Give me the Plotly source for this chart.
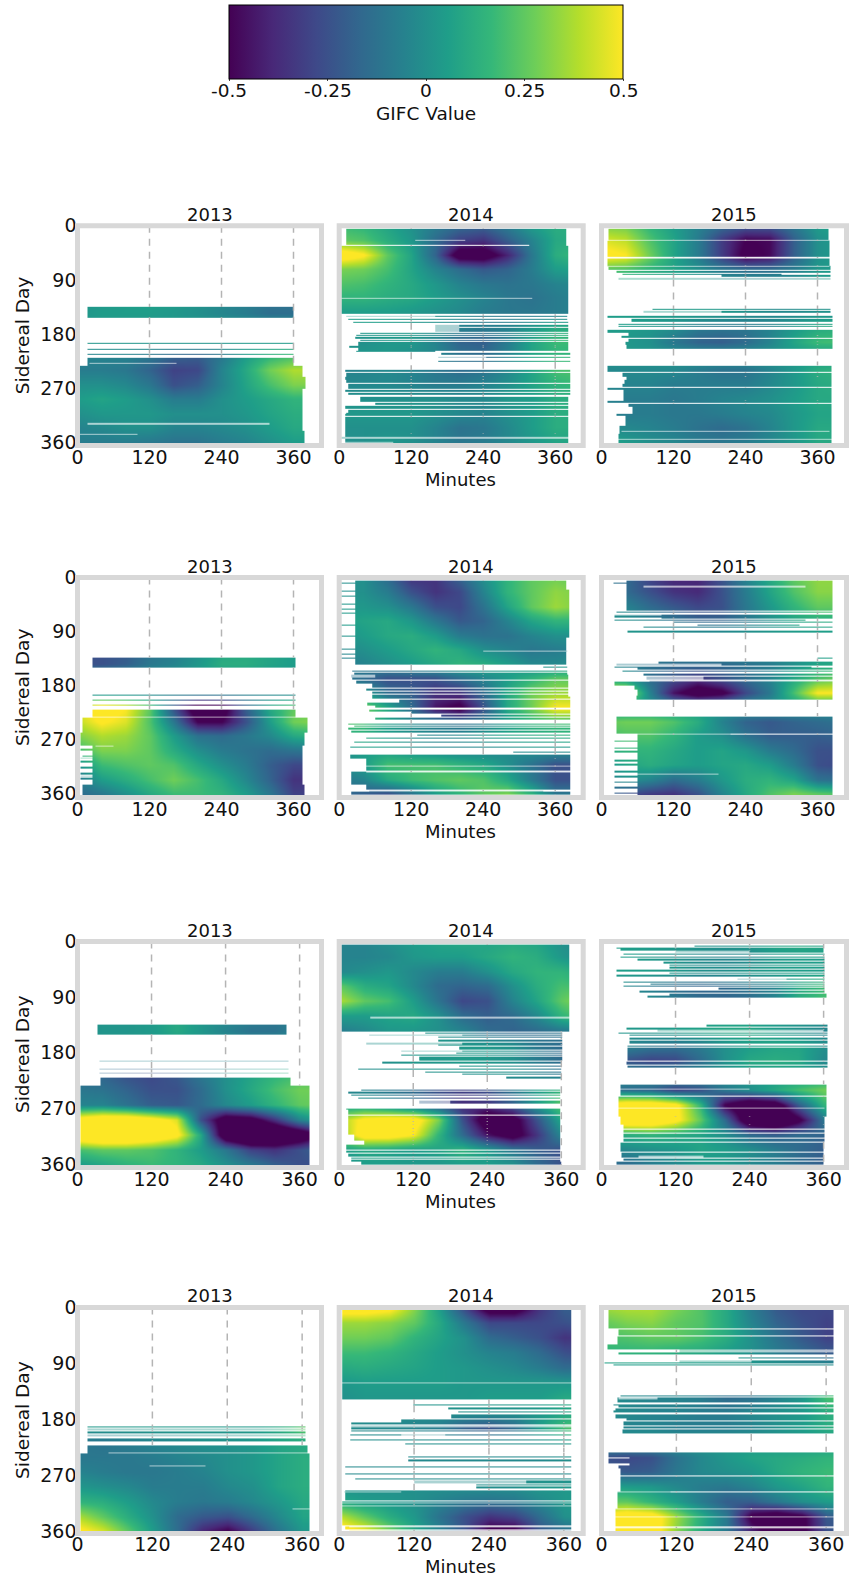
import plotly.graph_objects as go

YEARS = ["2013", "2014", "2015"]
DAYS = [0, 24, 48, 72, 96, 120, 144, 168, 192, 216, 240, 264, 288, 312, 336, 360]
MINS = [0, 40, 80, 120, 160, 200, 240, 280, 320, 360, 400]
X_TICKS = [0, 120, 240, 360]
Y_TICKS = [0, 90, 180, 270, 360]
GRID_TICKS = [120, 240, 360]
BAR_TICKS = [-0.5, -0.25, 0, 0.25, 0.5]
BAR_LABELS = ["-0.5", "-0.25", "0", "0.25", "0.5"]
H = [3] * 11  # days with no observations

# GIFC value x 100, one row per entry of DAYS, one column per entry of MINS
R1C1_Z = [H, H, H, H, H,
 [2,2,5,7,5,2,-2,-6,-10,-10,-10],
 [2,5,5,5,3,0,-4,-8,-14,-14,-14],
 [3,3,3,3,3,3,3,3,3,3,3],
 [3,3,3,3,3,3,3,3,3,3,3],
 [-5,-5,-5,-10,-18,-20,-10,5,15,20,20],
 [-8,-8,-10,-18,-30,-28,-5,10,28,38,38],
 [0,0,-3,-10,-25,-20,-5,8,20,30,30],
 [5,8,5,0,-8,-8,0,5,10,15,15],
 [0,3,3,3,0,0,0,3,8,12,12],
 [-5,-3,0,0,-5,-5,-3,0,5,10,10],
 [-8,-8,-8,-10,-12,-12,-8,-5,0,5,5]]
R1C2_Z = [
 [18,15,8,0,-8,-15,-18,-8,5,12,12],
 [25,22,12,3,-15,-30,-35,-20,-5,10,12],
 [62,52,25,8,-18,-62,-62,-40,-10,12,18],
 [30,28,20,8,-5,-15,-22,-18,-8,5,8],
 [22,20,15,10,3,-5,-10,-12,-10,-5,-3],
 [15,15,12,10,5,0,-5,-10,-12,-8,-5],
 [5,5,5,3,0,-3,-8,-10,-10,-8,-5],
 [5,5,5,3,0,-5,-8,-5,3,10,10],
 [0,0,3,3,-5,-18,-20,-8,8,18,18],
 [3,3,3,0,-3,-12,-15,-5,8,15,15],
 [-5,-5,-3,-5,-10,-15,-12,-3,8,20,22],
 [-3,-3,-3,-5,-8,-8,-5,0,8,15,18],
 [0,0,0,0,0,-3,-3,3,5,12,12],
 [3,3,3,3,0,-3,-5,0,5,12,12],
 [0,0,0,0,-5,-12,-10,-3,5,12,12],
 [0,0,3,0,-5,-10,-8,-3,3,8,8]]
R1C3_Z = [
 [30,28,15,5,-5,-15,-22,-22,-10,5,8],
 [45,40,22,8,-8,-32,-50,-48,-20,0,5],
 [55,50,28,8,-8,-32,-55,-48,-20,0,5],
 [25,22,15,8,0,-10,-15,-15,-8,3,5],
 H, H,
 [5,5,5,5,5,3,0,-3,-3,0,0],
 [5,5,3,0,-8,-10,-10,-5,3,10,12],
 [3,3,0,-10,-18,-20,-15,-5,8,18,20],
 H,
 [-3,-3,-3,-3,-8,-12,-12,-5,3,12,15],
 [-3,-5,-5,-8,-8,-8,-8,-3,3,10,12],
 [-5,-8,-8,-10,-8,-5,-3,0,5,10,10],
 [-5,-8,-8,-10,-10,-8,-5,-3,3,8,8],
 [0,-3,-5,-8,-12,-15,-12,-5,3,10,10],
 [10,5,0,-3,-8,-10,-8,-3,3,10,10]]
R2C1_Z = [H, H, H, H, H,
 [-25,-25,-22,-12,-8,0,8,10,8,5,5],
 [-25,-25,-20,-10,-5,3,12,12,8,5,5],
 H,
 [-5,-5,-5,-5,-5,-5,-5,-5,-5,-5,-5],
 [45,60,50,25,-25,-65,-60,-20,10,25,28],
 [40,52,45,22,-10,-50,-50,-25,5,28,32],
 [30,38,35,25,5,-12,-15,-10,-3,10,15],
 [18,30,30,25,12,0,-8,-12,-15,-12,-10],
 [0,18,22,25,22,10,0,-8,-20,-28,-28],
 [-10,5,12,20,28,20,10,-3,-18,-35,-35],
 [-15,-10,0,10,18,18,15,5,-10,-30,-30]]
R2C2_Z = [
 [0,0,-15,-35,-35,-18,0,15,25,28,25],
 [0,0,-8,-25,-35,-28,-5,15,25,33,30],
 [3,3,0,-10,-25,-28,-12,8,25,35,30],
 [5,8,10,3,-10,-22,-18,-5,8,15,15],
 [0,5,10,12,5,-8,-12,-12,-5,0,0],
 [-3,0,5,10,15,10,0,-5,-10,-8,-5],
 [-8,-5,0,5,10,15,12,5,-3,-3,0],
 [-10,-15,-25,-25,-25,-15,-5,5,15,25,25],
 [8,5,-15,-20,-35,-35,-15,10,28,35,35],
 [35,30,10,-15,-45,-55,-25,10,28,50,50],
 [25,20,5,-3,-8,-15,-8,5,15,20,20],
 [10,12,5,0,-5,-3,3,8,10,12,12],
 [0,5,5,0,-3,-5,-5,-3,0,0,0],
 [-3,5,20,20,20,15,10,0,-12,-25,-25],
 [-10,-5,10,18,22,25,22,10,-8,-25,-25],
 [-15,-20,-25,-12,5,15,25,30,15,-10,-10]]
R2C3_Z = [
 [-10,-15,-30,-40,-40,-25,-5,10,25,33,33],
 [-8,-15,-25,-35,-38,-25,-8,8,22,32,32],
 [-3,-5,-15,-22,-28,-25,-10,3,15,25,25],
 [0,0,-5,-12,-18,-18,-10,0,8,12,12],
 H, H,
 [-5,-8,-12,-15,-15,-15,-12,-8,0,8,10],
 [10,5,-15,-25,-35,-25,-15,-5,10,22,28],
 [50,45,-5,-45,-62,-55,-28,-10,20,50,50],
 H,
 [25,28,28,22,12,-5,-18,-22,-18,-15,-12],
 [18,22,22,15,5,0,-12,-20,-20,-20,-18],
 [10,15,15,10,5,8,3,-8,-15,-25,-25],
 [0,8,12,8,5,8,10,5,-8,-25,-28],
 [-8,0,-5,-15,-8,3,12,15,8,-12,-15],
 [-15,-25,-32,-35,-25,-5,10,22,30,25,22]]
R3C1_Z = [H, H, H, H, H,
 [-2,2,2,4,10,3,-2,-5,-10,-5,3],
 [-2,2,2,4,10,3,-5,-12,-12,-5,10],
 H,
 [-5,-5,-5,-5,-5,-5,-5,-5,-5,-5,-5],
 [-15,-18,-25,-28,-22,-10,0,8,15,20,20],
 [-10,-12,-18,-25,-25,-15,0,10,20,28,28],
 [-5,-5,-12,-20,-22,-15,-3,5,15,25,28],
 [60,70,70,60,45,-25,-65,-60,-35,-5,10],
 [70,80,80,70,55,10,-70,-90,-85,-70,-45],
 [20,25,25,22,15,5,-10,-30,-35,-25,-15],
 [5,10,15,18,15,10,0,-10,-20,-25,-25]]
R3C2_Z = [
 [-5,-5,0,5,8,10,8,10,8,0,-5],
 [-5,-5,-3,3,5,5,10,15,12,3,-3],
 [-3,0,3,-3,-8,-8,0,10,15,15,10],
 [25,12,8,-3,-15,-18,-15,0,12,20,20],
 [38,25,20,5,-12,-28,-25,-5,8,25,35],
 [5,5,8,10,0,-15,-20,-15,-3,15,25],
 [-8,-3,3,3,0,-5,-15,-18,-15,-10,-5],
 [0,0,0,3,3,3,3,0,-10,-15,-15],
 [0,0,0,3,3,5,3,0,-8,-15,-15],
 [0,0,0,0,0,0,0,0,-5,-10,-10],
 [-5,-5,-10,-15,-25,-30,-25,-10,5,15,20],
 [5,3,-5,-15,-25,-38,-35,-20,5,25,35],
 [35,55,60,60,30,-25,-65,-60,-25,10,25],
 [30,60,60,50,15,-15,-45,-60,-35,-3,10],
 [5,10,8,5,8,15,5,-10,-20,-25,-25],
 [0,5,5,3,3,5,5,0,-15,-25,-25]]
R3C3_Z = [
 [5,5,5,5,3,3,5,10,12,10,8],
 [5,5,3,0,-3,-5,-3,3,5,5,5],
 [5,5,5,3,0,0,3,5,5,5,5],
 [3,-3,-10,-15,-18,-15,-10,-5,10,18,18],
 [0,0,0,-8,-15,-18,-15,-5,12,20,20],
 H,
 [3,3,3,5,8,10,10,5,0,-5,-5],
 [0,-5,-10,-12,-8,0,5,8,8,0,0],
 [-8,-25,-30,-28,-15,0,10,12,10,-3,-5],
 H,
 [-10,-15,-18,-30,-25,-10,0,10,20,28,28],
 [55,65,65,55,15,-50,-70,-65,-20,15,25],
 [60,70,70,55,25,-15,-70,-80,-55,-10,5],
 [8,12,15,12,8,0,-15,-20,-15,-18,-15],
 [-5,-3,0,3,8,5,0,-8,-15,-20,-20],
 [-15,-15,-8,-3,3,3,-3,-8,-15,-20,-20]]
R4C1_Z = [H, H, H, H, H, H, H, H,
 [3,3,3,3,3,3,3,3,10,25,28],
 [-10,-12,-8,-5,-3,0,0,3,8,10,10],
 [-10,-10,-10,-8,-5,-3,0,3,8,12,12],
 [-5,-8,-10,-10,-8,-5,0,3,8,12,12],
 [3,0,-3,-8,-8,-8,-3,0,8,12,12],
 [15,12,5,-3,-8,-10,-8,-3,3,10,10],
 [38,25,12,0,-15,-22,-25,-15,-3,8,8],
 [55,45,25,5,-15,-40,-52,-32,-12,3,3]]
R4C2_Z = [
 [60,60,55,32,5,-28,-62,-62,-35,-20,-18],
 [35,35,32,25,10,-10,-28,-28,-28,-25,-20],
 [28,28,25,15,8,0,-15,-20,-25,-35,-32],
 [18,18,15,10,5,0,-5,-8,-15,-25,-30],
 [10,12,10,8,5,3,0,-3,-8,-15,-15],
 [3,5,5,5,5,3,3,3,3,3,3],
 [0,3,3,3,3,3,5,5,5,10,10],
 [0,0,0,0,0,0,0,0,3,8,12],
 [0,-3,-3,-5,-8,-20,-25,-15,5,20,28],
 [0,0,0,0,0,0,0,0,0,3,3],
 [-3,-3,-3,-3,-3,-3,-3,-3,-3,0,0],
 [-3,-3,-3,-3,-3,-3,-3,-3,-3,-3,-3],
 [0,0,0,0,0,0,0,0,3,3,3],
 [10,5,3,0,-5,-10,-12,-10,-3,3,5],
 [40,25,12,3,-12,-25,-35,-30,-15,0,3],
 [60,50,30,10,-5,-25,-55,-55,-25,-15,-10]]
R4C3_Z = [
 [35,38,38,30,22,10,-8,-22,-28,-28,-25],
 [25,30,32,25,22,10,-5,-18,-25,-30,-28],
 [20,22,25,25,20,12,0,-12,-22,-30,-30],
 [15,15,15,12,10,5,0,-8,-15,-22,-22],
 H, H,
 [0,-3,-5,-5,-8,-15,-12,-5,3,20,22],
 [0,-3,-5,-5,-8,-8,-3,0,3,12,15],
 [-3,-5,-5,-8,-8,-8,-5,0,5,12,15],
 H,
 [-25,-28,-25,-12,-3,3,8,10,12,15,15],
 [-18,-22,-20,-10,-3,0,3,10,15,18,18],
 [8,5,3,-3,-8,-10,-5,3,8,15,15],
 [25,25,15,5,-8,-20,-20,-10,0,5,8],
 [55,62,60,35,12,-10,-55,-65,-55,-22,-18],
 [60,65,60,32,10,-10,-40,-62,-55,-25,-20]]

# Observed stretches: (first day, last day, first minute, last minute)
R1C1_BANDS = [(135,152,16,360),(194,195.5,16,360),(204,205.5,16,360),(212,213.5,16,360),
 (219,233,16,360),(233,250,3,375),(250,270,3,380),(270,340,3,375),(340,363,3,378)]
R1C2_BANDS = [(5,32,12,378),(32,34,316,378),(34,147,4,382),(150,151,12,380),(154,156,15,380),
 (159,161,24,382),(165,167,160,382),(170,176,163,382),(177,179,35,382),(181,183,28,382),
 (185,188,26,382),(189,191,35,382),(193,199,32,382),(200,202,17,382),(203,208,32,382),
 (208,210,28,160),(211,214,170,385),(217,219,165,385),(224,226,165,385),(240,243,10,385),
 (244,250,12,385),(251,255,10,385),(256,260,12,385),(262,265,15,385),(266,270,15,385),
 (272,276,10,385),(278,280,15,385),(284,293,35,382),(294,298,60,382),(299,304,10,382),
 (305,310,15,382),(310,312,12,382),(313,316,10,382),(318,345,10,382),(346,362,10,382)]
R1C3_BANDS = [(5,23,12,378),(25,52,10,380),(53.5,66,10,380),(67,73,12,382),(75,78,25,382),
 (80,81,35,300),(82,84,200,382),(87,89,28,382),(138,140,85,382),(141,144,70,382),
 (150,153,10,385),(154,160,50,385),(163,165,28,385),(166,168,28,385),(173,178,10,385),
 (178,182,45,385),(183,186,33,385),(187,192,45,385),(193,197,40,385),(198,204,42,385),
 (232,238,10,383),(238,243,10,383),(244,250,35,383),(251,255,42,383),(255,262,38,383),
 (262,268,35,383),(269,272,10,383),(272,290,36,383),(291,294,10,383),(295,300,45,383),
 (300,312,52,383),(312,316,25,383),(316,332,40,383),(332,345,30,383),(345,352,28,383),
 (352,362,28,383)]
R2C1_BANDS = [(133,150,25,363),(195,196.5,25,363),(203,204.5,25,363),(212,213.5,25,363),
 (220,233,25,363),(233,258,8,383),(258,280,5,378),(280,345,25,375),(285,288,5,25),(296,299,8,25),
 (305,308,5,25),(315,318,5,25),(325,328,5,25),(333,336,5,25),(345,363,8,378)]
R2C2_BANDS = [(5,145,27,378),(20,100,378,384),(8,9.5,4,27),(21,22.5,4,27),(30,31.5,4,27),
 (44,45.5,4,27),(52,53.5,4,27),(58,59.5,4,27),(79,80.5,4,27),(96,97.5,4,27),(118,119.5,4,27),
 (127,128.5,4,27),(134,135.5,4,27),(148,149.5,340,380),(155,157,22,380),(158,161,25,380),
 (162,166,20,382),(167,170,22,382),(171,173,28,382),(174,176,28,382),(177,181,55,382),
 (182,184,55,382),(185,189,45,382),(190,194,55,382),(195,198,55,382),(199,202,55,385),
 (204,208,100,385),(209,213,47,385),(214,217,60,385),(220,223,50,385),(224,226,120,385),
 (228,232,170,385),(233,236,60,385),(243,245,15,385),(246,249,25,385),(250,254,15,385),
 (255,258,20,385),(262,264,130,385),(266,268,45,385),(273,275,25,385),(282,284,18,385),
 (290,291,290,385),(295,301,18,385),(302,313,45,385),(315,322,45,385),(324,345,20,385),
 (345,354,45,385),(356,362,20,385)]
R2C3_BANDS = [(5,55,41,385),(8,10,20,41),(56,58,25,385),(61,66,22,385),(67,68,100,385),
 (70,72,22,340),(73,75,120,385),(78,80,160,330),(82,84,70,385),(88,91,43,385),(134,135,360,385),
 (140,143,95,385),(144,146,25,385),(148,150,22,350),(150,153,60,385),(155,157,35,385),
 (160,163,70,385),(165,170,75,385),(174,180,22,385),(180,186,55,385),(186,196,60,385),
 (196,204,58,385),(231,260,25,385),(262,363,60,385),(272,274,22,60),(278,279,22,60),
 (283,285,22,60),(289,291,22,60),(303,306,22,60),(310,313,22,60),(322,325,22,60),
 (330,333,22,60),(340,342,22,60),(348,351,22,60),(358,360,22,60)]
R3C1_BANDS = [(134,150,32,338),(193,195,35,342),(205,206.5,35,342),(212,214,35,342),
 (220,233,38,345),(233,363,5,376)]
R3C2_BANDS = [(5,145,4,372),(147,149,140,362),(151,152,48,362),(154,156,160,362),(158,162,160,362),
 (164,166,44,362),(167,169,160,362),(170,175,195,362),(176,178,100,362),(180,182,190,362),
 (183,185,100,362),(187,192,130,362),(195,197,70,360),(200,203,195,360),(206,208,30,360),
 (210,212,140,360),(214,216,200,360),(218,222,270,360),(239,241,35,358),(243,246,15,358),
 (247,250,20,358),(252,255,30,358),(258,262,130,358),(270,272,12,358),(272,275,15,358),
 (276,280,15,358),(281,286,15,358),(287,291,15,358),(292,296,15,358),(297,302,15,358),
 (303,307,15,358),(308,312,15,358),(313,317,25,358),(318,322,25,358),(323,328,40,358),
 (329,337,12,358),(338,342,12,358),(343,348,15,358),(349,352,20,358),(353,356,20,358),(357,361,35,360)]
R3C3_BANDS = [(6,8,150,360),(9,11,24,360),(12,14,30,360),(15,18,120,360),(19,21,35,362),(24,26,30,362),
 (28,31,58,362),(33,35,100,362),(37,39,110,362),(41,44,110,362),(46,48,25,362),(50,52,110,362),
 (54,57,25,362),(60,62,220,362),(64,66,35,362),(68,70,80,362),(72,73,35,362),(75,78,190,362),
 (80,83,62,362),(84,88,110,364),(88,91,75,364),(135,137,170,366),(140,142,40,366),(143,146,90,366),
 (147,149,28,366),(150,153,45,366),(155,158,45,366),(161,165,45,366),(168,170,42,366),(172,178,42,366),
 (178,190,42,366),(190,193,42,366),(194,199,40,366),(200,204,42,366),(231,250,30,364),(251,283,28,364),
 (284,296,30,362),(297,303,35,362),(304,310,35,362),(311,318,35,362),(319,324,35,362),(325,340,30,360),
 (341,350,33,360),(351,354,35,360),(356,361,25,360)]
R4C1_BANDS = [(191,193,16,365),(195,197,16,365),(199,202,16,365),(204,207,16,365),(210,213,16,365),
 (214,215.5,16,365),(221,234,16,368),(234,363,4,372)]
R4C2_BANDS = [(4,147,4,372),(155,157,118,372),(161,163,175,372),(167,169,190,372),(172,178,180,372),
 (180,184,100,372),(185,188,20,372),(189,192,20,372),(193,196,20,372),(197,199,20,372),(204,205,18,372),
 (208,209,18,372),(212,213,18,372),(218,220,105,372),(224,225,110,372),(232,233,250,372),(239,241,110,372),
 (244,247,110,372),(248,249,5,372),(255,257,10,372),(261,262,5,372),(266,268,10,372),(274,276,25,372),
 (278,283,120,372),(284,286,220,372),(288,290,220,372),(294,310,10,372),(312,316,5,372),(317,322,4,372),
 (322,350,4,372),(351,357,10,372),(359,361,16,372),(362,364,4,372)]
R4C3_BANDS = [(4,33,12,372),(35,45,28,372),(47,60,25,372),(60,67,10,372),(68,72,125,372),(73,75,28,372),
 (80,82,220,372),(85,88,125,372),(88,90,5,372),(91,93,20,372),(141,143,30,372),(144,153,25,372),
 (155,157,20,372),(158,160,28,372),(162,165,22,372),(166,168,20,372),(172,178,22,372),(178,182,40,372),
 (183,190,35,372),(191,195,35,372),(196,203,33,372),(232,258,45,372),(232,240,12,45),(242,250,12,45),
 (253,259,28,45),(258,270,30,372),(272,295,30,372),(297,322,25,372),(324,335,22,372),(337,352,22,372),
 (354,363,22,372)]

# Washed-out lines: (first day, last day, first minute, last minute)
R1C1_PALE = [(228,230,20,165),(328,330,16,320),(346,347.5,3,100),(234,235,3,16)]
R1C2_PALE = [(24,25,127,210),(120,122,4,322),(150,151,12,160),(165,176,160,200),(217,219,165,245),(351,353,4,382),(358,360,10,90)]
R1C3_PALE = [(24,25,12,380),(53,54,10,380),(67,68,10,380),(87,89,28,382),(141,144,70,200),(310,311,35,170),(341,342,33,380),(354,355,28,383)]
R2C1_PALE = [(232,233,25,363),(280,282,30,60),(300,302,5,25),(330,332,5,25)]
R2C2_PALE = [(122,123.5,240,380),(162,166,20,60),(314,315.5,45,385),(323,324.5,45,385),(355,356.5,50,340)]
R2C3_PALE = [(14,16,70,340),(260,262,60,215),(326,328,60,195),(62,64,22,100),(144,146,25,200),(165,170,75,170),(171,173,80,385)]
R3C1_PALE = [(193,195,35,342),(205,206.5,35,342),(212,214,35,342)]
R3C2_PALE = [(122,124,50,372),(151,152,48,200),(164,166,44,200),(176,178,100,200),(258,262,130,180)]
R3C3_PALE = [(15,18,120,240),(60,62,220,300),(143,146,90,360),(268,270,28,362),(238,240,30,240),(322,323,35,160),(347,349,60,165),(354,355,35,360)]
R4C1_PALE = [(233,235,50,368),(254,255,115,205),(323,324,345,372),(195,197,16,365),(204,207,16,365),(240,241,30,75)]
R4C2_PALE = [(120,121.5,4,372),(189,192,20,372),(204,205,100,170),(278,283,120,300),(296,297,8,100),(313,314,4,372),(318,319,4,372),(352,353,16,372),(358,359,16,372)]
R4C3_PALE = [(68,72,125,372),(85,88,125,240),(144,147,28,90),(271,272,30,372),(296,297,25,110),(323,324,22,372),(336,337,22,372),(353,354,22,372)]

Z_GRID = [[R1C1_Z,R1C2_Z,R1C3_Z],[R2C1_Z,R2C2_Z,R2C3_Z],[R3C1_Z,R3C2_Z,R3C3_Z],[R4C1_Z,R4C2_Z,R4C3_Z]]
BAND_GRID = [[R1C1_BANDS,R1C2_BANDS,R1C3_BANDS],[R2C1_BANDS,R2C2_BANDS,R2C3_BANDS],
             [R3C1_BANDS,R3C2_BANDS,R3C3_BANDS],[R4C1_BANDS,R4C2_BANDS,R4C3_BANDS]]
PALE_GRID = [[R1C1_PALE,R1C2_PALE,R1C3_PALE],[R2C1_PALE,R2C2_PALE,R2C3_PALE],
             [R3C1_PALE,R3C2_PALE,R3C3_PALE],[R4C1_PALE,R4C2_PALE,R4C3_PALE]]

# Layout in pixels
W, H_PX = 851, 1585
COL_X = [(77.5, 321.5), (339.2, 583.2), (601.5, 846.5)]
ROW_Y = [(225.8, 445.6), (577.6, 797.6), (941.6, 1167.6), (1307.4, 1533.4)]
PX_PER_MIN = [0.600, 0.600, 0.617, 0.624]
PX_PER_DAY = [0.602, 0.600, 0.6176, 0.623]
BAR_X = (229, 623)
FRAME = "#d8d8d8"
GRID = "#b4b4b4"
FONT = "DejaVu Sans"
TEXT = "#111111"
FS = 18
TICK_FS = 19


def covered(day, minute, bands):
    return any(b[0] <= day < b[1] and b[2] <= minute < b[3] for b in bands)


def build_mask(bands, pale, xmax, ymax):
    xs = sorted({0, xmax} | {min(b[k], xmax) for b in bands + pale for k in (2, 3)})
    ys = sorted({0, ymax} | {min(b[k], ymax) for b in bands + pale for k in (0, 1)})
    z = []
    for j in range(len(ys) - 1):
        d = (ys[j] + ys[j + 1]) / 2
        row = []
        for i in range(len(xs) - 1):
            m = (xs[i] + xs[i + 1]) / 2
            if covered(d, m, pale):
                row.append(0)
            elif covered(d, m, bands):
                row.append(None)
            else:
                row.append(1)
        z.append(row)
    return xs, ys, z


def grid_segments(tick, bands, ymax):
    ys = sorted({0, ymax} | {min(b[k], ymax) for b in bands for k in (0, 1)})
    sx, sy = [], []
    start = None
    for j in range(len(ys) - 1):
        free = not covered((ys[j] + ys[j + 1]) / 2, tick, bands)
        if free and start is None:
            start = ys[j]
        if start is not None and (not free or j == len(ys) - 2):
            sx += [tick, tick, None]
            sy += [start, ys[j + 1] if free else ys[j], None]
            start = None
    return sx, sy


def text_note(text, px, py, angle=0, size=FS):
    return dict(text=text, x=px / W, y=1 - py / H_PX, xref="paper", yref="paper", showarrow=False,
                xanchor="center", yanchor="middle", textangle=angle,
                font=dict(family=FONT, size=size, color=TEXT))


fig = go.Figure()
layout = {}
shapes = []
annotations = []
for r in range(4):
    y0, y1 = ROW_Y[r]
    ymax = (y1 - y0) / PX_PER_DAY[r]
    for c in range(3):
        x0, x1 = COL_X[c]
        xmax = (x1 - x0) / PX_PER_MIN[r]
        n = r * 3 + c + 1
        sfx = "" if n == 1 else str(n)
        xa, ya = "x" + sfx, "y" + sfx
        fig.add_trace(go.Heatmap(
            x=MINS, y=DAYS, z=[[v / 100 for v in row] for row in Z_GRID[r][c]],
            coloraxis="coloraxis", zsmooth="best", xaxis=xa, yaxis=ya, hoverinfo="skip"))
        mx, my, mz = build_mask(BAND_GRID[r][c], PALE_GRID[r][c], xmax, ymax)
        fig.add_trace(go.Heatmap(
            x=mx, y=my, z=mz, zmin=0, zmax=1, showscale=False, xaxis=xa, yaxis=ya,
            colorscale=[[0, "rgba(255,255,255,0.62)"], [1, "rgba(255,255,255,1)"]],
            hoverinfo="skip"))
        sx, sy = [], []
        for t in GRID_TICKS:
            if t < xmax:
                a, b = grid_segments(t, BAND_GRID[r][c], ymax)
                sx += a
                sy += b
        fig.add_trace(go.Scatter(
            x=sx, y=sy, mode="lines", line=dict(color=GRID, width=1.5, dash="7px,6px"),
            xaxis=xa, yaxis=ya, showlegend=False, hoverinfo="skip"))
        layout["xaxis" + sfx] = dict(
            domain=[x0 / W, x1 / W], range=[0, xmax], anchor=ya, tickmode="array",
            tickvals=X_TICKS, ticktext=[str(t) for t in X_TICKS], showgrid=False, zeroline=False,
            showline=False, ticks="", ticklabelstandoff=-2,
            tickfont=dict(family=FONT, size=TICK_FS, color=TEXT))
        layout["yaxis" + sfx] = dict(
            domain=[1 - y1 / H_PX, 1 - y0 / H_PX], range=[ymax, 0], anchor=xa, tickmode="array",
            tickvals=Y_TICKS, ticktext=[str(t) for t in Y_TICKS] if c == 0 else [""] * 5,
            showgrid=False, zeroline=False, showline=False, ticks="",
            tickfont=dict(family=FONT, size=TICK_FS, color=TEXT))
        shapes.append(dict(type="rect", xref=xa + " domain", yref=ya + " domain", x0=0, x1=1, y0=0, y1=1,
                           line=dict(color=FRAME, width=5), layer="above"))
        annotations.append(text_note(YEARS[c], (x0 + x1) / 2 + 10, y0 - 11.5))
    annotations.append(text_note("Minutes", 460, y1 + 33.5))
    annotations.append(text_note("Sidereal Day", 22.5, (y0 + y1) / 2, -90, 18.5))

for val, lab in zip(BAR_TICKS, BAR_LABELS):
    annotations.append(text_note(lab, BAR_X[0] + (val + 0.5) * (BAR_X[1] - BAR_X[0]), 90.5, 0, 18.5))
annotations.append(text_note("GIFC Value", 425.5, 113, 0, 18.5))

fig.update_layout(
    width=W, height=H_PX, margin=dict(l=0, r=0, t=0, b=0, autoexpand=False), paper_bgcolor="white", plot_bgcolor="white",
    showlegend=False, shapes=shapes, annotations=annotations,
    coloraxis=dict(
        colorscale="Viridis", cmin=-0.5, cmax=0.5,
        colorbar=dict(
            orientation="h", x=BAR_X[0] / W, xanchor="left", y=1 - 5 / H_PX, yanchor="top",
            lenmode="pixels", len=BAR_X[1] - BAR_X[0], thicknessmode="pixels", thickness=74, xpad=0, ypad=0,
            outlinecolor="black", outlinewidth=1, tickmode="array", tickvals=BAR_TICKS,
            ticks="outside", ticklen=2, showticklabels=False)),
    **layout)
fig.write_html("out.html", post_script="document.body.style.margin='0';", config={"displayModeBar": False})
